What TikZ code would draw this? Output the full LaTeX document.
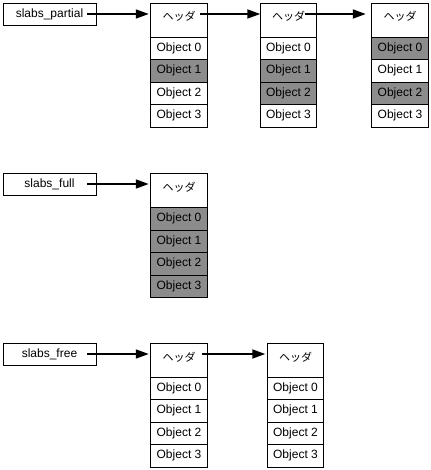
\documentclass[tikz,border=0pt]{standalone}
\usepackage{fontspec}
\setmainfont{Liberation Sans}
\newfontfamily\jpfont{Noto Sans CJK JP}
\usetikzlibrary{arrows.meta, positioning}

\tikzset{
  listbox/.style={draw, line width=0.8bp, minimum width=93bp, minimum height=22bp, inner sep=0pt, font=\fontsize{12bp}{14bp}\selectfont},
  hdr/.style={draw, line width=0.8bp, minimum width=56.5bp, minimum height=34bp, text height=16bp, text depth=14bp, inner sep=2bp, outer sep=0pt, font=\jpfont\fontsize{11bp}{13bp}\selectfont},
  obj/.style={draw, line width=0.8bp, minimum width=56.5bp, minimum height=22.5bp, inner sep=0pt, outer sep=0pt, font=\fontsize{12bp}{14bp}\selectfont},
  used/.style={obj, fill=black!45},
  link/.style={-{Triangle[length=13bp, width=9bp]}, line width=1.8bp},
}

\begin{document}
\begin{tikzpicture}[x=1bp, y=-1bp]
\useasboundingbox (0,0) rectangle (430,470);

% slabs_partial
\node (partial) at (49.5, 14) [listbox] {slabs\_partial};
\node (pa) at (179, 20) [hdr] {ヘッダ};
\node (pa0) [obj, below=0pt of pa] {Object 0};
\node (pa1) [used, below=0pt of pa0] {Object 1};
\node (pa2) [obj, below=0pt of pa1] {Object 2};
\node (pa3) [obj, below=0pt of pa2] {Object 3};
\node (pb) at (288.5, 20) [hdr] {ヘッダ};
\node (pb0) [obj, below=0pt of pb] {Object 0};
\node (pb1) [used, below=0pt of pb0] {Object 1};
\node (pb2) [used, below=0pt of pb1] {Object 2};
\node (pb3) [obj, below=0pt of pb2] {Object 3};
\node (pc) at (400, 20) [hdr] {ヘッダ};
\node (pc0) [used, below=0pt of pc] {Object 0};
\node (pc1) [obj, below=0pt of pc0] {Object 1};
\node (pc2) [used, below=0pt of pc1] {Object 2};
\node (pc3) [obj, below=0pt of pc2] {Object 3};

\draw[link, shorten <=-9bp, shorten >=2bp] (partial.east) -- (partial.east -| pa.west);
\draw[link, shorten <=-7bp] (pa.east |- partial.east) -- (partial.east -| pb.west);
\draw[link, shorten <=-12bp, shorten >=6bp] (pb.east |- partial.east) -- (partial.east -| pc.west);

% slabs_full
\node (full) at (49.5, 184) [listbox] {slabs\_full};
\node (fa) at (179, 190.5) [hdr] {ヘッダ};
\node (fa0) [used, below=0pt of fa] {Object 0};
\node (fa1) [used, below=0pt of fa0] {Object 1};
\node (fa2) [used, below=0pt of fa1] {Object 2};
\node (fa3) [used, below=0pt of fa2] {Object 3};

\draw[link, shorten <=-9bp, shorten >=2bp] (full.east) -- (full.east -| fa.west);

% slabs_free
\node (free) at (49.5, 354) [listbox] {slabs\_free};
\node (ea) at (179, 360) [hdr] {ヘッダ};
\node (ea0) [obj, below=0pt of ea] {Object 0};
\node (ea1) [obj, below=0pt of ea0] {Object 1};
\node (ea2) [obj, below=0pt of ea1] {Object 2};
\node (ea3) [obj, below=0pt of ea2] {Object 3};
\node (eb) at (295.5, 360) [hdr] {ヘッダ};
\node (eb0) [obj, below=0pt of eb] {Object 0};
\node (eb1) [obj, below=0pt of eb0] {Object 1};
\node (eb2) [obj, below=0pt of eb1] {Object 2};
\node (eb3) [obj, below=0pt of eb2] {Object 3};

\draw[link, shorten <=-9bp, shorten >=2bp] (free.east) -- (free.east -| ea.west);
\draw[link, shorten <=-5bp, shorten >=2bp] (ea.east |- free.east) -- (free.east -| eb.west);
\end{tikzpicture}
\end{document}
